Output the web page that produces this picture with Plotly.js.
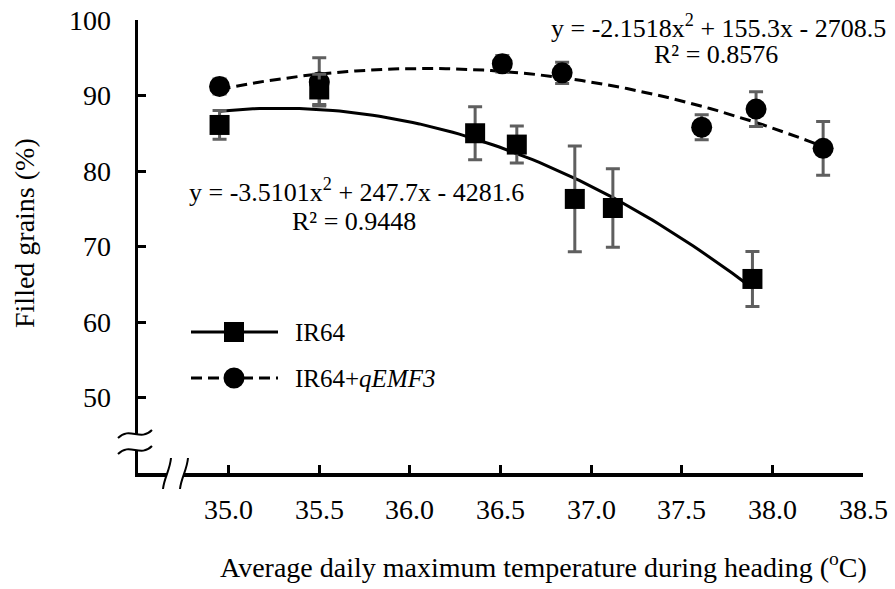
<!DOCTYPE html>
<html><head><meta charset="utf-8">
<script src="https://cdn.plot.ly/plotly-3.0.1.min.js"></script>
<style>html,body{margin:0;padding:0;background:#fff}#chart{width:895px;height:589px}</style>
</head><body><div id="chart"></div>
<script>
// ---- data ----
const ir64Temp   = [34.95, 35.5, 36.36, 36.59, 36.91, 37.12, 37.89];
const ir64Filled = [86.1, 90.8, 85.0, 83.5, 76.3, 75.1, 65.7];
const ir64Err    = [1.9, 2.0, 3.5, 2.45, 7.0, 5.2, 3.65];
const qemfTemp   = [34.95, 35.5, 36.51, 36.84, 37.61, 37.91, 38.28];
const qemfFilled = [91.2, 91.8, 94.2, 93.0, 85.8, 88.2, 83.0];
const qemfErr    = [1.0, 3.2, 1.1, 1.4, 1.65, 2.3, 3.55];
// quadratic trend-line coefficients printed on the chart (a, b, c)
const ir64Fit = [-3.5101, 247.7, -4281.6];
const qemfFit = [-2.1518, 155.3, -2708.5];
const xTickVals = [35.0, 35.5, 36.0, 36.5, 37.0, 37.5, 38.0, 38.5];
const yTickVals = [50, 60, 70, 80, 90, 100];
const seriesNames = ['IR64', 'IR64+<i>qEMF3</i>'];

const FONT = 'Liberation Serif';
const ERRC = '#5f5f5f';

function trend(coef, xs) {
  const x0 = Math.min(...xs), x1 = Math.max(...xs), n = 80;
  const X = [], Y = [];
  for (let i = 0; i <= n; i++) {
    const x = x0 + (x1 - x0) * i / n;
    X.push(x); Y.push(coef[0] * x * x + coef[1] * x + coef[2]);
  }
  return {X, Y};
}
const t1 = trend(ir64Fit, ir64Temp), t2 = trend(qemfFit, qemfTemp);

// plot area geometry (px) used for legend / breaks in paper space
const L = 138, T = 20, W = 725, H = 453;
const px = x => (x - L) / W, py = y => (T + H - y) / H;

const traces = [
  {x: t2.X, y: t2.Y, mode: 'lines', line: {color: '#000', width: 3, dash: '11px,6px'}, hoverinfo: 'skip', showlegend: false},
  {x: t1.X, y: t1.Y, mode: 'lines', line: {color: '#000', width: 3}, hoverinfo: 'skip', showlegend: false},
  {x: qemfTemp, y: qemfFilled, mode: 'markers', name: 'IR64+qEMF3',
   marker: {symbol: 'circle', size: 21, color: '#000'},
   error_y: {type: 'data', array: qemfErr, visible: true, color: ERRC, thickness: 3, width: 7}, showlegend: false},
  {x: ir64Temp, y: ir64Filled, mode: 'markers', name: 'IR64',
   marker: {symbol: 'square', size: 20, color: '#000'},
   error_y: {type: 'data', array: ir64Err, visible: true, color: ERRC, thickness: 3, width: 7}, showlegend: false}
];

const P = (x, y) => `${px(x)},${py(y)}`;
const shapes = [
  // y-axis break
  {type: 'path', xref: 'paper', yref: 'paper', layer: 'above',
   path: `M${P(118,438)} C${P(130,426)} ${P(140,442)} ${P(152,430)} L${P(152,446)} C${P(140,458)} ${P(130,442)} ${P(118,454)} Z`,
   fillcolor: '#fff', line: {width: 0}},
  {type: 'path', xref: 'paper', yref: 'paper', layer: 'above',
   path: `M${P(118,438)} C${P(130,426)} ${P(140,442)} ${P(152,430)}`, line: {color: '#000', width: 2}},
  {type: 'path', xref: 'paper', yref: 'paper', layer: 'above',
   path: `M${P(118,454)} C${P(130,442)} ${P(140,458)} ${P(152,446)}`, line: {color: '#000', width: 2}},
  // x-axis break
  {type: 'path', xref: 'paper', yref: 'paper', layer: 'above',
   path: `M${P(163,489)} C${P(164,478)} ${P(170,470)} ${P(171,458)} L${P(188,458)} C${P(187,470)} ${P(181,478)} ${P(180,489)} Z`,
   fillcolor: '#fff', line: {width: 0}},
  {type: 'path', xref: 'paper', yref: 'paper', layer: 'above',
   path: `M${P(163,489)} C${P(164,478)} ${P(170,470)} ${P(171,458)}`, line: {color: '#000', width: 2}},
  {type: 'path', xref: 'paper', yref: 'paper', layer: 'above',
   path: `M${P(180,489)} C${P(181,478)} ${P(187,470)} ${P(188,458)}`, line: {color: '#000', width: 2}},
  // legend samples
  {type: 'line', xref: 'paper', yref: 'paper', x0: px(191), x1: px(278), y0: py(332), y1: py(332), line: {color: '#000', width: 3}},
  {type: 'rect', xref: 'paper', yref: 'paper', x0: px(224), x1: px(244), y0: py(322), y1: py(342), fillcolor: '#000', line: {width: 0}},
  {type: 'line', xref: 'paper', yref: 'paper', x0: px(191), x1: px(278), y0: py(378), y1: py(378), line: {color: '#000', width: 3, dash: '11px,6px'}},
  {type: 'circle', xref: 'paper', yref: 'paper', x0: px(223.5), x1: px(244.5), y0: py(367.5), y1: py(388.5), fillcolor: '#000', line: {width: 0}}
];

const ann = (text, x, y, size, extra) => Object.assign({text, x, y, xref: 'paper', yref: 'paper', showarrow: false,
  font: {family: FONT, size, color: '#000'}, xanchor: 'center', yanchor: 'middle'}, extra || {});

const annotations = [
  ann('y = -2.1518x<sup>2</sup> + 155.3x - 2708.5', px(718), py(27), 26),
  ann('R² = 0.8576', px(716), py(54), 26),
  ann('y = -3.5101x<sup>2</sup> + 247.7x - 4281.6', px(356), py(190), 26),
  ann('R² = 0.9448', px(354), py(222), 26),
  ann(seriesNames[0], px(293), py(332), 25, {xanchor: 'left'}),
  ann(seriesNames[1], px(293), py(378), 25, {xanchor: 'left'}),
  ann('Average daily maximum temperature during heading (<sup>o</sup>C)', px(543), py(565), 28),
  ann('Filled grains (%)', px(25), py(233), 28, {textangle: -90})
];
// tick labels, placed on the axes' own scales
xTickVals.forEach(v => annotations.push(ann(v.toFixed(1), v, py(509), 28, {xref: 'x'})));
yTickVals.forEach(v => annotations.push(ann(String(v), px(113), v, 28, {yref: 'y', xanchor: 'right'})));

const layout = {
  width: 895, height: 589,
  margin: {l: L, r: 895 - L - W, t: T, b: 589 - T - H},
  paper_bgcolor: '#fff', plot_bgcolor: '#fff',
  showlegend: false,
  font: {family: FONT, size: 28, color: '#000'},
  xaxis: {range: [34.5, 38.5], tickvals: xTickVals, showticklabels: false, ticks: 'inside', ticklen: 8, tickwidth: 3,
          tickcolor: '#000', showline: true, linecolor: '#000', linewidth: 3.5, showgrid: false, zeroline: false, fixedrange: true},
  yaxis: {range: [40, 100], tickvals: yTickVals, showticklabels: false, ticks: 'inside', ticklen: 8, tickwidth: 3,
          tickcolor: '#000', showline: true, linecolor: '#000', linewidth: 3.5, showgrid: false, zeroline: false, fixedrange: true},
  shapes, annotations
};

Plotly.newPlot('chart', traces, layout, {displayModeBar: false, staticPlot: true});
</script></body></html>
